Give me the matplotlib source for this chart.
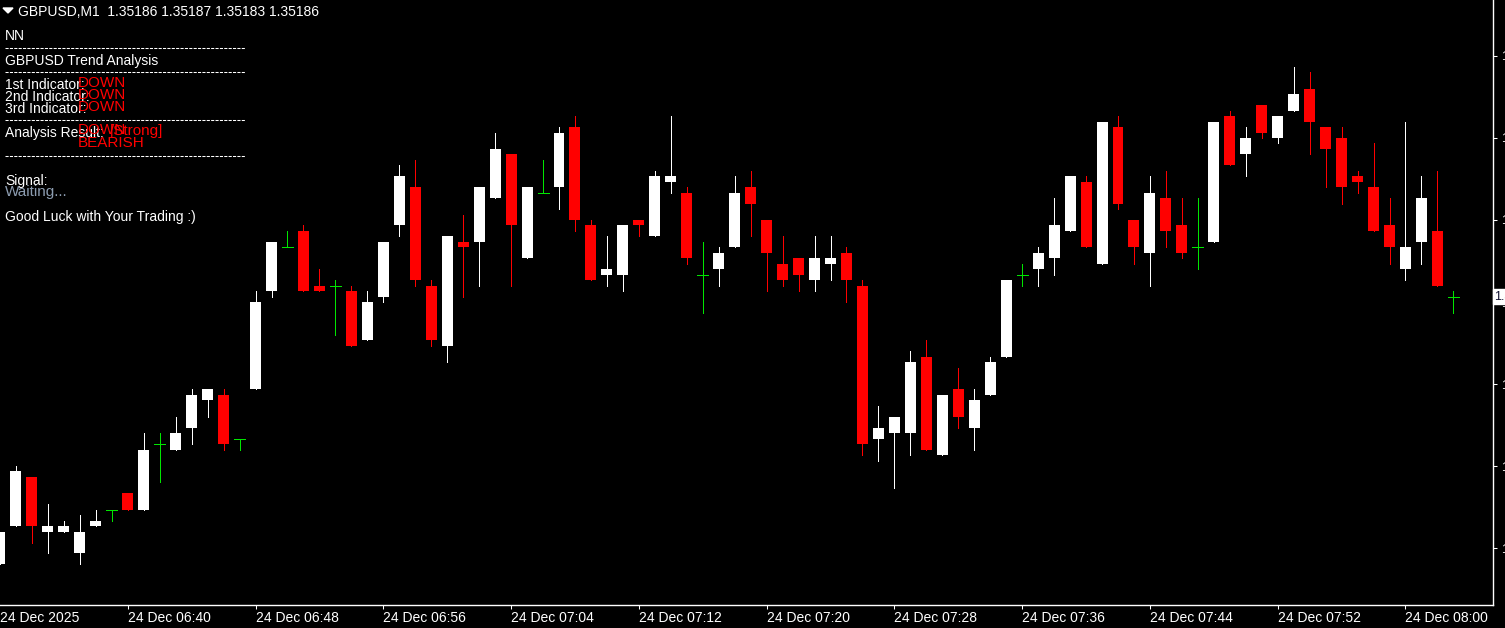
import matplotlib
matplotlib.use("Agg")
import matplotlib.pyplot as plt
from matplotlib import font_manager
from matplotlib.lines import Line2D
from matplotlib.patches import Polygon
import pandas as pd

W, H = 1505, 628

# GBPUSD M1 bars, 24 Dec 06:32 .. 08:03
opens = [1.35137, 1.35144, 1.35153, 1.35143, 1.35143, 1.35139, 1.35144, 1.35147, 1.35150, 1.35147,
         1.35159, 1.35158, 1.35162, 1.35167, 1.35168, 1.35160, 1.35169, 1.35187, 1.35195, 1.35198,
         1.35188, 1.35188, 1.35187, 1.35178, 1.35186, 1.35199, 1.35206, 1.35188, 1.35177, 1.35196,
         1.35196, 1.35204, 1.35212, 1.35193, 1.35205, 1.35206, 1.35217, 1.35199, 1.35190, 1.35190,
         1.35200, 1.35197, 1.35207, 1.35205, 1.35190, 1.35191, 1.35195, 1.35206, 1.35200, 1.35192,
         1.35193, 1.35189, 1.35192, 1.35194, 1.35188, 1.35160, 1.35161, 1.35161, 1.35175, 1.35157,
         1.35169, 1.35162, 1.35168, 1.35175, 1.35190, 1.35191, 1.35193, 1.35198, 1.35207, 1.35192,
         1.35217, 1.35200, 1.35194, 1.35204, 1.35199, 1.35195, 1.35196, 1.35219, 1.35212, 1.35221,
         1.35215, 1.35220, 1.35224, 1.35217, 1.35215, 1.35208, 1.35206, 1.35199, 1.35191, 1.35196,
         1.35198, 1.35186]
highs = [1.35143, 1.35155, 1.35153, 1.35148, 1.35145, 1.35146, 1.35147, 1.35147, 1.35150, 1.35161,
         1.35161, 1.35164, 1.35169, 1.35169, 1.35169, 1.35160, 1.35187, 1.35196, 1.35198, 1.35199,
         1.35191, 1.35189, 1.35188, 1.35187, 1.35196, 1.35210, 1.35211, 1.35189, 1.35197, 1.35201,
         1.35206, 1.35216, 1.35212, 1.35206, 1.35211, 1.35217, 1.35219, 1.35200, 1.35197, 1.35199,
         1.35200, 1.35209, 1.35219, 1.35206, 1.35196, 1.35195, 1.35208, 1.35209, 1.35200, 1.35197,
         1.35193, 1.35197, 1.35197, 1.35195, 1.35189, 1.35166, 1.35164, 1.35176, 1.35178, 1.35168,
         1.35173, 1.35169, 1.35175, 1.35189, 1.35192, 1.35195, 1.35204, 1.35208, 1.35208, 1.35218,
         1.35219, 1.35200, 1.35208, 1.35209, 1.35204, 1.35204, 1.35218, 1.35220, 1.35217, 1.35221,
         1.35219, 1.35228, 1.35227, 1.35217, 1.35217, 1.35209, 1.35214, 1.35204, 1.35218, 1.35208,
         1.35209, 1.35187]
lows = [1.35137, 1.35144, 1.35141, 1.35139, 1.35143, 1.35137, 1.35144, 1.35145, 1.35147, 1.35147,
        1.35152, 1.35158, 1.35159, 1.35164, 1.35158, 1.35158, 1.35169, 1.35186, 1.35195, 1.35187,
        1.35187, 1.35179, 1.35177, 1.35178, 1.35185, 1.35197, 1.35188, 1.35177, 1.35174, 1.35186,
        1.35188, 1.35204, 1.35188, 1.35193, 1.35205, 1.35202, 1.35198, 1.35189, 1.35188, 1.35187,
        1.35197, 1.35197, 1.35205, 1.35192, 1.35183, 1.35188, 1.35195, 1.35197, 1.35187, 1.35188,
        1.35187, 1.35187, 1.35189, 1.35185, 1.35157, 1.35156, 1.35151, 1.35157, 1.35158, 1.35157,
        1.35162, 1.35158, 1.35168, 1.35175, 1.35188, 1.35188, 1.35190, 1.35198, 1.35195, 1.35192,
        1.35202, 1.35192, 1.35188, 1.35195, 1.35193, 1.35191, 1.35196, 1.35210, 1.35208, 1.35215,
        1.35214, 1.35220, 1.35212, 1.35206, 1.35203, 1.35205, 1.35198, 1.35192, 1.35189, 1.35192,
        1.35188, 1.35183]
closes = [1.35143, 1.35154, 1.35144, 1.35144, 1.35144, 1.35143, 1.35145, 1.35147, 1.35147, 1.35158,
          1.35159, 1.35161, 1.35168, 1.35169, 1.35159, 1.35160, 1.35185, 1.35196, 1.35195, 1.35187,
          1.35187, 1.35188, 1.35177, 1.35185, 1.35196, 1.35208, 1.35189, 1.35178, 1.35197, 1.35195,
          1.35206, 1.35213, 1.35199, 1.35206, 1.35205, 1.35216, 1.35200, 1.35189, 1.35191, 1.35199,
          1.35199, 1.35208, 1.35208, 1.35193, 1.35190, 1.35194, 1.35205, 1.35203, 1.35194, 1.35189,
          1.35190, 1.35193, 1.35193, 1.35189, 1.35159, 1.35162, 1.35164, 1.35174, 1.35158, 1.35168,
          1.35164, 1.35167, 1.35174, 1.35189, 1.35190, 1.35194, 1.35199, 1.35208, 1.35195, 1.35218,
          1.35203, 1.35195, 1.35205, 1.35198, 1.35194, 1.35195, 1.35218, 1.35210, 1.35215, 1.35216,
          1.35219, 1.35223, 1.35218, 1.35213, 1.35206, 1.35207, 1.35198, 1.35195, 1.35195, 1.35204,
          1.35188, 1.35186]

times = pd.date_range("2025-12-24 06:32", periods=len(opens), freq="1min")

price_ticks = [1.35140, 1.35155, 1.35170, 1.35185, 1.35200, 1.35215, 1.35230]
time_ticks = ["06:40", "06:48", "06:56", "07:04", "07:12", "07:20", "07:28", "07:36", "07:44", "07:52", "08:00"]

names = {f.name for f in font_manager.fontManager.ttflist}
axis_font = "Liberation Sans Narrow" if "Liberation Sans Narrow" in names else "Liberation Sans"
plt.rcParams["font.family"] = ["Liberation Sans", "DejaVu Sans"]

fig = plt.figure(figsize=(W / 100, H / 100), dpi=100, facecolor="black")
ax = fig.add_axes([0, (H - 605) / H, 1493 / W, 605 / H])
ax.set_facecolor("black")

bull, bear, doji = "white", "#ff0000", "#00e600"
body_w = 11 / 16
for i in range(len(opens)):
    o, h, l, c = opens[i], highs[i], lows[i], closes[i]
    if c > o:
        col = bull
    elif c < o:
        col = bear
    else:
        col = doji
    ax.vlines(i, l, h, color=col, linewidth=0.72, antialiased=False, zorder=2)
    if c == o:
        ax.hlines(o, i - body_w / 2, i + body_w / 2, color=col, linewidth=0.72,
                  antialiased=False, zorder=2)
    else:
        ax.bar(i, abs(c - o), bottom=min(o, c), width=body_w, color=col, linewidth=0,
               antialiased=False, zorder=3)

# axes pixel 0..605 -> price range (about 5.47 px per point, 1.35185 at y=302)
ax.set_ylim(1.35185 - 0.0005542, 1.35185 + 0.0005524)
# bar centres 16 px apart, 06:40 bar at x=125
ax.set_xlim(0.17, 93.48)

for s in ["top", "left"]:
    ax.spines[s].set_visible(False)
for s in ["right", "bottom"]:
    ax.spines[s].set_color("white")
    ax.spines[s].set_linewidth(1)

ax.yaxis.tick_right()
ax.set_yticks(price_ticks)
ax.set_yticklabels(["%.5f" % p for p in price_ticks])
ax.tick_params(axis="y", colors="white", length=3, width=0.75, pad=3, labelsize=9)

tick_pos = [list(times.strftime("%H:%M")).index(t) for t in time_ticks]
ax.set_xticks([0] + tick_pos)
ax.set_xticklabels(["24 Dec 2025"] + ["24 Dec " + t for t in time_ticks],
                   ha="left", color="white", fontfamily=axis_font, fontsize=10)
ax.tick_params(axis="x", colors="white", length=3, width=0.75, pad=1)
ax.get_xticklines()[0].set_visible(False)

# current price box
ax.text(1.001, closes[-1], "%.5f" % closes[-1], transform=ax.get_yaxis_transform(),
        ha="left", va="center", fontsize=9, color="#101030",
        bbox=dict(boxstyle="square,pad=0.15", fc="white", ec="white"))


def px(x, y):
    return x / W, 1 - y / H


def label(x, y, s, color="white", size=10):
    fig.text(*px(x, y), s, color=color, fontsize=size, va="baseline", ha="left")


def dashes(y):
    fig.add_artist(Line2D([5 / W, 245 / W], [1 - y / H] * 2, color="white",
                          linewidth=0.75, linestyle=(0, (3, 1.2))))


fig.add_artist(Polygon([px(3, 8), px(13, 8), px(8, 13)], closed=True, color="white",
                       transform=fig.transFigure))
label(18, 16, "GBPUSD,M1  1.35186 1.35187 1.35183 1.35186")

label(5, 40, "NN")
dashes(48)
label(5, 65, "GBPUSD Trend Analysis")
dashes(72)
label(5, 89, "1st Indicator:")
label(5, 101, "2nd Indicator:")
label(5, 113, "3rd Indicator:")
label(78, 87, "DOWN", "#ff0000", 11)
label(78, 99, "DOWN", "#ff0000", 11)
label(78, 111, "DOWN", "#ff0000", 11)
dashes(120)
label(5, 137, "Analysis Result:")
label(78, 134, "DOWN", "#ff0000", 11)
label(110, 135, "[Strong]", "#ff0000", 11)
label(78, 147, "BEARISH", "#ff0000", 11)
dashes(156)
label(5, 185, "Signal:")
label(5, 196, "Waiting...", "#8c9cb0", 11)
label(5, 221, "Good Luck with Your Trading :)")

fig.savefig("out.png", dpi=100, facecolor="black")
